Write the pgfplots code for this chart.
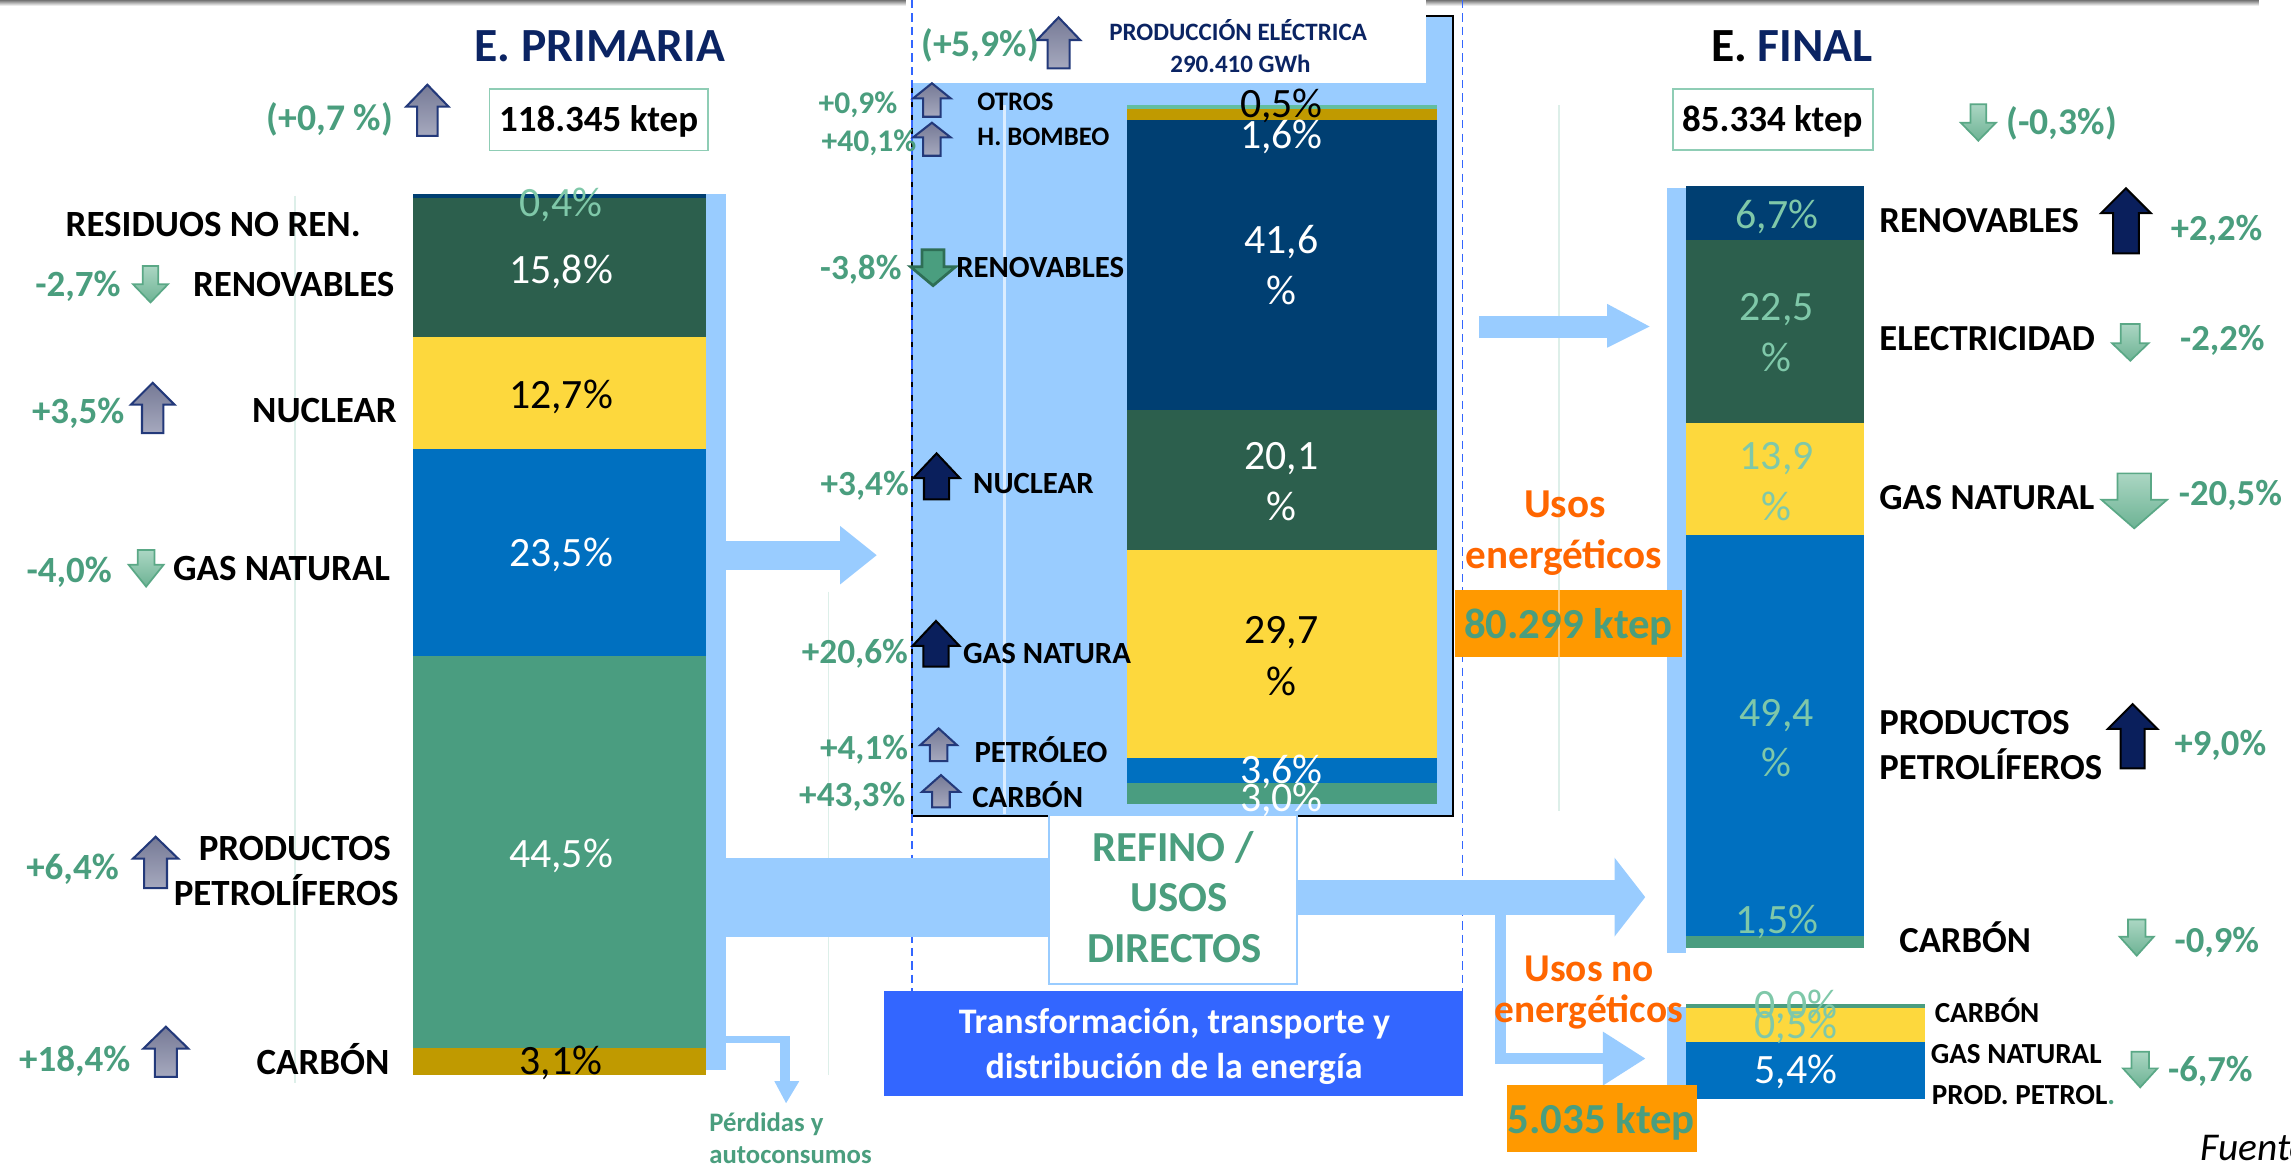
\documentclass[border=0pt]{standalone}
\usepackage{pgfplots}
\pgfplotsset{compat=1.18}
\usepackage{fontspec}
\setmainfont{Carlito}

\definecolor{navyT}{HTML}{0B2463}
\definecolor{gtxt}{HTML}{4A9E7E}
\definecolor{ltxt}{HTML}{7FC8A9}
\definecolor{cnavy}{HTML}{003F72}
\definecolor{cdkgreen}{HTML}{2C5F4D}
\definecolor{cyellow}{HTML}{FDD83D}
\definecolor{cblue}{HTML}{0070C0}
\definecolor{cgreen}{HTML}{4A9D80}
\definecolor{cgold}{HTML}{C09A00}
\definecolor{cteal}{HTML}{62BEA0}
\definecolor{lblue}{HTML}{99CCFF}
\definecolor{orangeT}{HTML}{FF6600}
\definecolor{orangeB}{HTML}{FF9900}
\definecolor{boxblue}{HTML}{3366FF}
\definecolor{boxg}{HTML}{8FCDB5}
\definecolor{gaT}{HTML}{767A96}
\definecolor{gaB}{HTML}{A6A9BE}
\definecolor{gaE}{HTML}{23397A}
\definecolor{naF}{HTML}{0A1F5C}
\definecolor{lgT}{HTML}{ABD6C3}
\definecolor{lgB}{HTML}{6DB394}
\definecolor{lgE}{HTML}{5AA886}
\definecolor{dgF}{HTML}{4A9E7F}
\definecolor{dgE}{HTML}{2E6E55}
\definecolor{grid}{HTML}{DDEFE9}

\tikzset{
 B/.style={inner sep=0pt, font=\bfseries\fontsize{#1}{#1}\selectfont},
 R/.style={inner sep=0pt, font=\fontsize{#1}{#1}\selectfont},
 garr/.style={top color=gaT, bottom color=gaB, draw=gaE, line width=0.6pt},
 narr/.style={fill=naF, draw=black, line width=0.6pt},
 lgarr/.style={top color=lgT, bottom color=lgB, draw=lgE, line width=0.5pt},
 dgarr/.style={fill=dgF, draw=dgE, line width=0.8pt},
}
% style, cx, ytop, ybot, head half width, shaft half width, head height
\newcommand{\UpA}[7]{\path[#1] (#2,#3) -- ({#2+#5},{#3+#7}) -- ({#2+#6},{#3+#7}) -- ({#2+#6},#4) -- ({#2-#6},#4) -- ({#2-#6},{#3+#7}) -- ({#2-#5},{#3+#7}) -- cycle;}
\newcommand{\DnA}[7]{\path[#1] (#2,#4) -- ({#2+#5},{#4-#7}) -- ({#2+#6},{#4-#7}) -- ({#2+#6},#3) -- ({#2-#6},#3) -- ({#2-#6},{#4-#7}) -- ({#2-#5},{#4-#7}) -- cycle;}

\pgfplotsset{sbar/.style={anchor=south west, scale only axis, hide axis,
  xmin=0.5, xmax=1.5, ymin=0, ybar stacked, bar width=1, clip=false}}

\begin{document}
\begin{tikzpicture}[x=0.015cm, y=-0.015cm]
\useasboundingbox (0,0) rectangle (1568,798);
\clip (0,0) rectangle (1568,798);
\fill[white] (0,0) rectangle (1568,798);
\shade[top color=black!55, bottom color=white] (0,0) rectangle (1546,4);

% faint gridlines
\draw[grid, line width=0.5pt] (202,134) -- (202,741);
\draw[grid, line width=0.5pt] (567,405) -- (567,736);
\draw[grid, line width=0.5pt] (1067,72) -- (1067,555);

% electricity panel
\filldraw[fill=lblue, draw=black, line width=0.65pt] (624,11) rectangle (994.5,558.5);
\fill[white] (620,0) rectangle (976,57);
\draw[white!65!lblue, line width=0.6pt] (687.5,72) -- (687.5,557);
\draw[boxblue, line width=0.45pt, dash pattern=on 2.4pt off 1.5pt] (624,0) -- (624,678);
\draw[boxblue, line width=0.45pt, dash pattern=on 2.4pt off 1.5pt] (1001,0) -- (1001,678);

% flows
\fill[lblue] (483,133) rectangle (497,732);
\fill[lblue] (497,370) rectangle (576,390);
\fill[lblue] (575,360) -- (600,380) -- (575,400) -- cycle;
\fill[lblue] (497,587) rectangle (718,641);
\fill[lblue] (497,709) rectangle (541,714);
\fill[lblue] (534,709) rectangle (541,741);
\fill[lblue] (530,740) -- (547,740) -- (538,755) -- cycle;
\fill[lblue] (888,602) rectangle (1106,626);
\fill[lblue] (1105,587) -- (1126,614) -- (1105,641) -- cycle;
\fill[lblue] (1023,626) rectangle (1031,728);
\fill[lblue] (1023,721) rectangle (1098,728);
\fill[lblue] (1097,706) -- (1126,724.5) -- (1097,743) -- cycle;
\fill[lblue] (1012,216) rectangle (1101,231);
\fill[lblue] (1100,208) -- (1129,223.5) -- (1100,238) -- cycle;
\fill[lblue] (1141,129) rectangle (1154,652);
\fill[lblue] (1141,689) rectangle (1154,752);

% REFINO box and blue box
\filldraw[fill=white, draw=lblue, line width=0.6pt] (718,558) rectangle (888,673.5);
\fill[boxblue] (605,678) rectangle (1001,750);

% axes placement coordinates
\coordinate (P1) at (283,736);
\coordinate (P2) at (771,550);
\coordinate (P3) at (1154,649);
\coordinate (P4) at (1154,752);

% Primary energy (%)
\begin{axis}[sbar, at={(P1)}, width=3cm, height=9.045cm, ymax=100]
\addplot[fill=cgold, draw=none] coordinates {(1,3.1)};
\addplot[fill=cgreen, draw=none] coordinates {(1,44.5)};
\addplot[fill=cblue, draw=none] coordinates {(1,23.5)};
\addplot[fill=cyellow, draw=none] coordinates {(1,12.7)};
\addplot[fill=cdkgreen, draw=none] coordinates {(1,15.8)};
\addplot[fill=cnavy, draw=none] coordinates {(1,0.4)};
\end{axis}

% Electricity production (%)
\begin{axis}[sbar, at={(P2)}, width=3.189cm, height=7.17cm, ymax=100.1]
\addplot[fill=cgreen, draw=none] coordinates {(1,3.0)};
\addplot[fill=cblue, draw=none] coordinates {(1,3.6)};
\addplot[fill=cyellow, draw=none] coordinates {(1,29.7)};
\addplot[fill=cdkgreen, draw=none] coordinates {(1,20.1)};
\addplot[fill=cnavy, draw=none] coordinates {(1,41.6)};
\addplot[fill=cgold, draw=none] coordinates {(1,1.6)};
\addplot[fill=cteal, draw=none] coordinates {(1,0.5)};
\end{axis}

% Final energy, energy uses (%)
\begin{axis}[sbar, at={(P3)}, width=1.83cm, height=8.325cm, ymax=100]
\addplot[fill=cgreen, draw=none] coordinates {(1,1.5)};
\addplot[fill=cblue, draw=none] coordinates {(1,49.4)};
\addplot[fill=cyellow, draw=none] coordinates {(1,13.9)};
\addplot[fill=cdkgreen, draw=none] coordinates {(1,22.5)};
\addplot[fill=cnavy, draw=none] coordinates {(1,6.7)};
\end{axis}

% Final energy, non-energy uses (heights as drawn)
\begin{axis}[sbar, at={(P4)}, width=2.4525cm, height=0.9774cm, ymax=9.05]
\addplot[fill=cblue, draw=none] coordinates {(1,5.4)};
\addplot[fill=cyellow, draw=none] coordinates {(1,3.2)};
\addplot[fill=cgreen, draw=none] coordinates {(1,0.45)};
\end{axis}

% orange boxes
\fill[orangeB] (996,404) rectangle (1151,450);
\draw[orangeB!55!white, line width=0.5pt] (1067,404) -- (1067,450);
\fill[orangeB] (1031.5,742.6) rectangle (1161.6,788.5);

% boxes with totals
\draw[boxg, line width=0.55pt] (335,61) rectangle (484.5,103);
\draw[boxg, line width=0.55pt] (1145.3,61) rectangle (1282,102.6);

% arrows - primary
\UpA{garr}{292.5}{58}{93}{14.5}{7}{15}
\DnA{lgarr}{103}{182}{207}{12}{5.3}{12.5}
\UpA{garr}{104.5}{262}{296.5}{15}{7.3}{15}
\DnA{lgarr}{100}{376.5}{401.5}{12}{5.7}{15}
\UpA{garr}{106.5}{572.7}{607.9}{15.5}{7.8}{15}
\UpA{garr}{113.5}{702.7}{737}{15.4}{7.5}{15}
% arrows - electricity
\UpA{garr}{724.5}{11.9}{46.8}{14.8}{7.5}{15.5}
\UpA{garr}{637.8}{57}{79.9}{12.8}{6}{10.3}
\UpA{garr}{637.8}{84}{106.6}{12.8}{6}{10}
\DnA{dgarr}{638.6}{171}{195.5}{15.5}{7.5}{13}
\UpA{narr}{641}{310.3}{341.8}{16}{8.6}{17}
\UpA{narr}{640.6}{425}{456.3}{16}{8.6}{17}
\UpA{garr}{642.4}{498.5}{520.9}{12.6}{6}{11.5}
\UpA{garr}{644}{530.5}{552.6}{13}{6}{11.5}
% arrows - final
\DnA{lgarr}{1354}{71.4}{96.3}{12}{5.4}{12.3}
\UpA{narr}{1455}{128.9}{173.4}{17}{8.8}{17}
\DnA{lgarr}{1458}{221.8}{246.9}{12.5}{6.5}{12}
\DnA{lgarr}{1460.7}{324}{361.6}{22.5}{11.5}{19.6}
\UpA{narr}{1459.6}{481.9}{525.9}{17}{8.2}{17}
\DnA{lgarr}{1462.4}{629.3}{654.1}{11.7}{6}{13}
\DnA{lgarr}{1464.8}{719.8}{744.2}{11.8}{6}{13}

% ---------- texts: primary ----------
\node[B=13.9, text=navyT, anchor=base] at (410.5,42.4) {E. PRIMARIA};
\node[B=11, text=gtxt, anchor=base] at (225.8,89.5) {(+0,7 \%)};
\node[B=10.8, anchor=base] at (409.7,90) {118.345 ktep};
\node[B=10.8, anchor=base] at (145.9,162) {RESIDUOS NO REN.};
\node[B=10.8, text=gtxt, anchor=base east] at (83,203) {-2,7\%};
\node[B=10.8, anchor=base east] at (270.4,203) {RENOVABLES};
\node[B=10.8, text=gtxt, anchor=base east] at (85.6,290) {+3,5\%};
\node[B=10.8, anchor=base east] at (272,289) {NUCLEAR};
\node[B=10.8, text=gtxt, anchor=base east] at (77,398.8) {-4,0\%};
\node[B=10.8, anchor=base east] at (267.4,397) {GAS NATURAL};
\node[B=10.8, text=gtxt, anchor=base east] at (81.7,602) {+6,4\%};
\node[B=10.8, anchor=base] at (201.8,589) {PRODUCTOS};
\node[B=10.8, anchor=base] at (195.9,619.5) {PETROLÍFEROS};
\node[B=10.8, text=gtxt, anchor=base east] at (89.6,733.5) {+18,4\%};
\node[B=10.8, anchor=base east] at (267,735.5) {CARBÓN};
\node[R=12.2, text=ltxt, anchor=base] at (384,148) {0,4\%};
\node[R=12.2, text=white, anchor=base] at (384,194) {15,8\%};
\node[R=12.2, text=black, anchor=base] at (384,279.5) {12,7\%};
\node[R=12.2, text=white, anchor=base] at (384,388) {23,5\%};
\node[R=12.2, text=white, anchor=base] at (384,593.6) {44,5\%};
\node[R=12.2, text=black, anchor=base] at (384,735.5) {3,1\%};
\node[B=7.8, text=gtxt, anchor=base west] at (485,774.5) {Pérdidas y};
\node[B=7.8, text=gtxt, anchor=base west] at (485,796.3) {autoconsumos};

% ---------- texts: electricity ----------
\node[B=11, text=gtxt, anchor=base] at (670.8,39) {(+5,9\%)};
\node[B=7.3, text=navyT, anchor=base] at (847.4,27.8) {PRODUCCIÓN ELÉCTRICA};
\node[B=7.3, text=navyT, anchor=base] at (849,49.7) {290.410 GWh};
\node[B=9.2, text=gtxt, anchor=base east] at (614.6,77.5) {+0,9\%};
\node[B=7.8, anchor=base west] at (668.5,75.7) {OTROS};
\node[B=9.2, text=gtxt, anchor=base east] at (627.6,103.8) {+40,1\%};
\node[B=7.8, anchor=base west] at (668.5,99.7) {H. BOMBEO};
\node[B=10.3, text=gtxt, anchor=base east] at (617.5,191.6) {-3,8\%};
\node[B=9, anchor=base west] at (654,190) {RENOVABLES};
\node[B=10.3, text=gtxt, anchor=base east] at (622.4,338.8) {+3,4\%};
\node[B=9, anchor=base west] at (665.6,337.7) {NUCLEAR};
\node[B=10.3, text=gtxt, anchor=base east] at (621.8,454) {+20,6\%};
\node[B=9, anchor=base west] at (658.7,454) {GAS NATURA};
\node[B=10.3, text=gtxt, anchor=base east] at (622,520) {+4,1\%};
\node[B=9, anchor=base west] at (666.5,522) {PETRÓLEO};
\node[B=10.3, text=gtxt, anchor=base east] at (620,552) {+43,3\%};
\node[B=9, anchor=base west] at (665,552.5) {CARBÓN};
\node[R=12.2, text=black, anchor=base] at (877,80.3) {0,5\%};
\node[R=12.2, text=white, anchor=base] at (877,101.5) {1,6\%};
\node[R=12.2, text=white, anchor=base] at (877,173.4) {41,6};
\node[R=12.2, text=white, anchor=base] at (877,208.7) {\%};
\node[R=12.2, text=white, anchor=base] at (877,321.2) {20,1};
\node[R=12.2, text=white, anchor=base] at (877,356) {\%};
\node[R=12.2, text=black, anchor=base] at (877,440.3) {29,7};
\node[R=12.2, text=black, anchor=base] at (877,475.7) {\%};
\node[R=12.2, text=white, anchor=base] at (877,536) {3,6\%};
\node[R=12.2, text=white, anchor=base] at (877,555.5) {3,0\%};

% ---------- REFINO and transformation ----------
\node[B=12.5, text=gtxt, anchor=base] at (803,589.5) {REFINO /};
\node[B=12.5, text=gtxt, anchor=base] at (807,624) {USOS};
\node[B=12.5, text=gtxt, anchor=base] at (804,659) {DIRECTOS};
\node[B=10.5, text=white, anchor=base] at (803.8,707.5) {Transformación, transporte y};
\node[B=10.5, text=white, anchor=base] at (803.5,738) {distribución de la energía};

% ---------- uses ----------
\node[B=12, text=orangeT, anchor=base] at (1071,354) {Usos};
\node[B=12, text=orangeT, anchor=base] at (1070.5,389.4) {energéticos};
\node[B=12.5, text=gtxt, anchor=base] at (1073.5,437) {80.299 ktep};
\node[B=11.5, text=orangeT, anchor=base] at (1087.7,672) {Usos no};
\node[B=11.5, text=orangeT, anchor=base] at (1087.4,700) {energéticos};
\node[B=12.5, text=gtxt, anchor=base] at (1096,776) {5.035 ktep};

% ---------- final ----------
\node[B=13.9, anchor=base] at (1226.5,42.2) {E. {\color{navyT}FINAL}};
\node[B=10.8, anchor=base] at (1213,90) {85.334 ktep};
\node[B=11, text=gtxt, anchor=base] at (1411,92) {(-0,3\%)};
\node[B=10.7, anchor=base west] at (1285.8,159) {RENOVABLES};
\node[B=10.7, text=gtxt, anchor=base west] at (1485.3,164.7) {+2,2\%};
\node[B=10.7, anchor=base west] at (1285.8,240) {ELECTRICIDAD};
\node[B=10.7, text=gtxt, anchor=base west] at (1491.6,240) {-2,2\%};
\node[B=10.7, anchor=base west] at (1285.8,348.4) {GAS NATURAL};
\node[B=10.7, text=gtxt, anchor=base west] at (1490.8,346.3) {-20,5\%};
\node[B=10.7, anchor=base west] at (1285.8,502.6) {PRODUCTOS};
\node[B=10.7, anchor=base west] at (1285.8,533.4) {PETROLÍFEROS};
\node[B=10.7, text=gtxt, anchor=base west] at (1487.9,517.4) {+9,0\%};
\node[B=10.7, anchor=base west] at (1299.5,652) {CARBÓN};
\node[B=10.7, text=gtxt, anchor=base west] at (1487.9,652) {-0,9\%};
\node[B=8.5, anchor=base west] at (1323.7,699.7) {CARBÓN};
\node[B=8.5, anchor=base west] at (1321,728.2) {GAS NATURAL};
\node[B=8.5, anchor=base west] at (1321.8,755.6) {PROD. PETROL{\color{gtxt}.}};
\node[B=10.7, text=gtxt, anchor=base west] at (1483.4,740.3) {-6,7\%};
\node[R=12.2, text=ltxt, anchor=base] at (1216,156.3) {6,7\%};
\node[R=12.2, text=ltxt, anchor=base] at (1216,219.4) {22,5};
\node[R=12.2, text=ltxt, anchor=base] at (1216,254.3) {\%};
\node[R=12.2, text=ltxt, anchor=base] at (1216,321.2) {13,9};
\node[R=12.2, text=ltxt, anchor=base] at (1216,356.4) {\%};
\node[R=12.2, text=ltxt, anchor=base] at (1216,497) {49,4};
\node[R=12.2, text=ltxt, anchor=base] at (1216,531.6) {\%};
\node[R=12.2, text=ltxt, anchor=base] at (1216,638.8) {1,5\%};
\node[R=12.2, text=ltxt, anchor=base] at (1229,697) {0,0\%};
\node[R=12.2, text=ltxt, anchor=base] at (1229,710.5) {0,5\%};
\node[R=12.2, text=white, anchor=base] at (1229,741.5) {5,4\%};
\node[inner sep=0pt, font=\itshape\fontsize{11.5}{11.5}\selectfont, anchor=base west] at (1505.7,794) {Fuente:};
\end{tikzpicture}
\end{document}
